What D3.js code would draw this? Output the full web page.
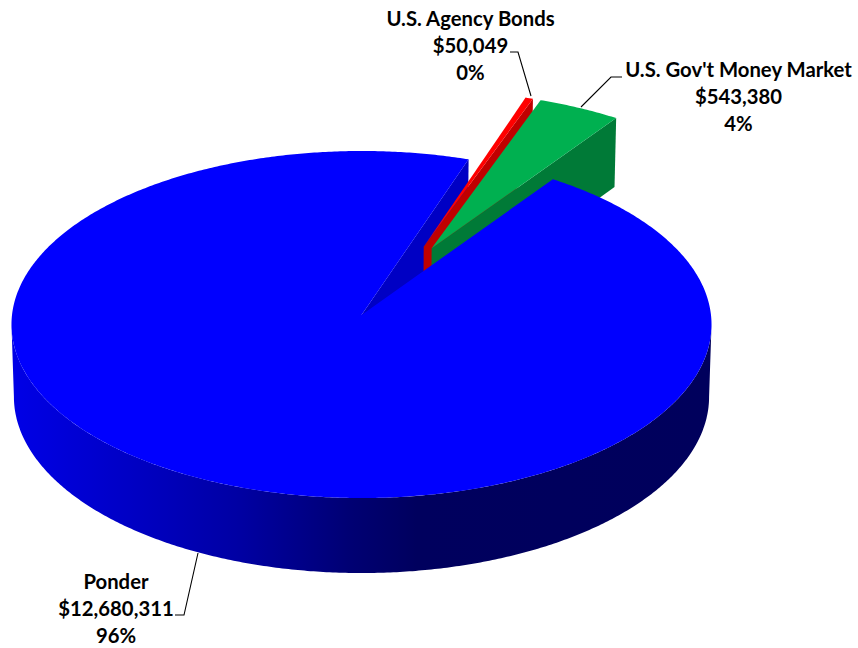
<!DOCTYPE html>
<html><head><meta charset="utf-8">
<script src="https://cdn.jsdelivr.net/npm/d3@7"></script>
<style>html,body{margin:0;padding:0;background:#fff}svg{display:block}</style>
</head><body><svg id="c" width="858" height="648"></svg>
<script>
const names = ["Ponder", "U.S. Agency Bonds", "U.S. Gov't Money Market"];
const values = [12680311, 50049, 543380];
const explodeRadius = [0, 0.442, 0.444];
const explodeDirDeg = [0, 24.3, 27.5];
const topColors = ["#0000FF", "#FF0000", "#00B050"];
const wallColors = ["#0000C4", "#C00000", "#007A37"];
const labelAnchors = [[116, 582], [470.5, 19], [738.5, 70]];
const leaders = [
  [[198,553],[184,615],[175,615]],
  [[531,96],[518,52],[510,52]],
  [[581,107],[611,77],[622,77]]
];

const svg = d3.select("#c");
const total = d3.sum(values);
const DEG = Math.PI/180;
const arcs = d3.pie().sort(null).value(d=>d).startAngle(34.9*DEG).endAngle(394.9*DEG)(values);

// perspective projection of pie plane (unit circle) to screen
const cx=361.5, cy=315, A=349.5, B=173, C=72.7, k=0.0548, m=0.007;
function project(u,v,z){
  const w = 1 - k*v + m*z;
  return [cx + A*u/w, cy + (B*v + C*z)/w];
}
function pt(i,r,a,z){
  const ox = explodeRadius[i]*Math.sin(explodeDirDeg[i]*DEG);
  const oy = -explodeRadius[i]*Math.cos(explodeDirDeg[i]*DEG);
  return project(ox + r*Math.sin(a), oy - r*Math.cos(a), z);
}
function sweep(a0,a1){
  const n = Math.max(4, Math.ceil(Math.abs(a1-a0)/(0.5*DEG)));
  return d3.range(n+1).map(j=>a0+(a1-a0)*j/n);
}
const line = d3.line();

// gradient for the outer wall of the large slice
const defs = svg.append("defs");
const grad = defs.append("linearGradient").attr("id","wall").attr("gradientUnits","userSpaceOnUse")
  .attr("x1",14).attr("x2",709).attr("y1",0).attr("y2",0);
[[0,"#0000E6"],[0.17,"#0000C4"],[0.32,"#0000A4"],[0.48,"#000074"],[0.58,"#00005E"],[1,"#00005C"]]
  .forEach(s=>grad.append("stop").attr("offset",s[0]).attr("stop-color",s[1]));

function facePts(i,d){
  return [pt(i,0,0,0)].concat(sweep(d.startAngle,d.endAngle).map(a=>pt(i,1,a,0)));
}
function cutWall(i,a){
  return [pt(i,0,0,0),pt(i,1,a,0),pt(i,1,a,1),pt(i,0,0,1)];
}

const g = svg.append("g");
// cut wall of the large slice seen through the gap
g.append("path").attr("d",line(cutWall(0,arcs[0].endAngle))+"Z").attr("fill",wallColors[0]);
// exploded slices, back to front
[1,2].forEach(i=>{
  const d = arcs[i];
  g.append("path").attr("d",line(cutWall(i,d.endAngle))+"Z").attr("fill",wallColors[i]);
  g.append("path").attr("d",line(facePts(i,d))+"Z").attr("fill",topColors[i]);
});
// outer wall of the large slice, from silhouette to silhouette
const frontA = sweep(93.14*DEG,266.86*DEG);
const wallPts = frontA.map(a=>pt(0,1,a,0)).concat(frontA.slice().reverse().map(a=>pt(0,1,a,1)));
g.append("path").attr("d",line(wallPts)+"Z").attr("fill","url(#wall)");
// top face of the large slice
g.append("path").attr("d",line(facePts(0,arcs[0]))+"Z").attr("fill",topColors[0]);

// leaders
svg.append("g").selectAll("path").data(leaders).join("path")
  .attr("d",d=>line(d)).attr("fill","none").attr("stroke","#000").attr("stroke-width",1.1);

// labels
const fmt = d3.format("$,"), pct = d3.format(".0%");
const lab = svg.append("g").attr("font-family","Lato, sans-serif").attr("font-weight",700)
  .attr("font-size",20.3).attr("fill","#000").attr("text-anchor","middle");
names.forEach((n,i)=>{
  const [x,y] = labelAnchors[i];
  [n, fmt(values[i]), pct(values[i]/total)].forEach((s,j)=>{
    lab.append("text").attr("x",x).attr("y",y+j*26.7).attr("dy","0.35em").text(s);
  });
});
</script></body></html>
